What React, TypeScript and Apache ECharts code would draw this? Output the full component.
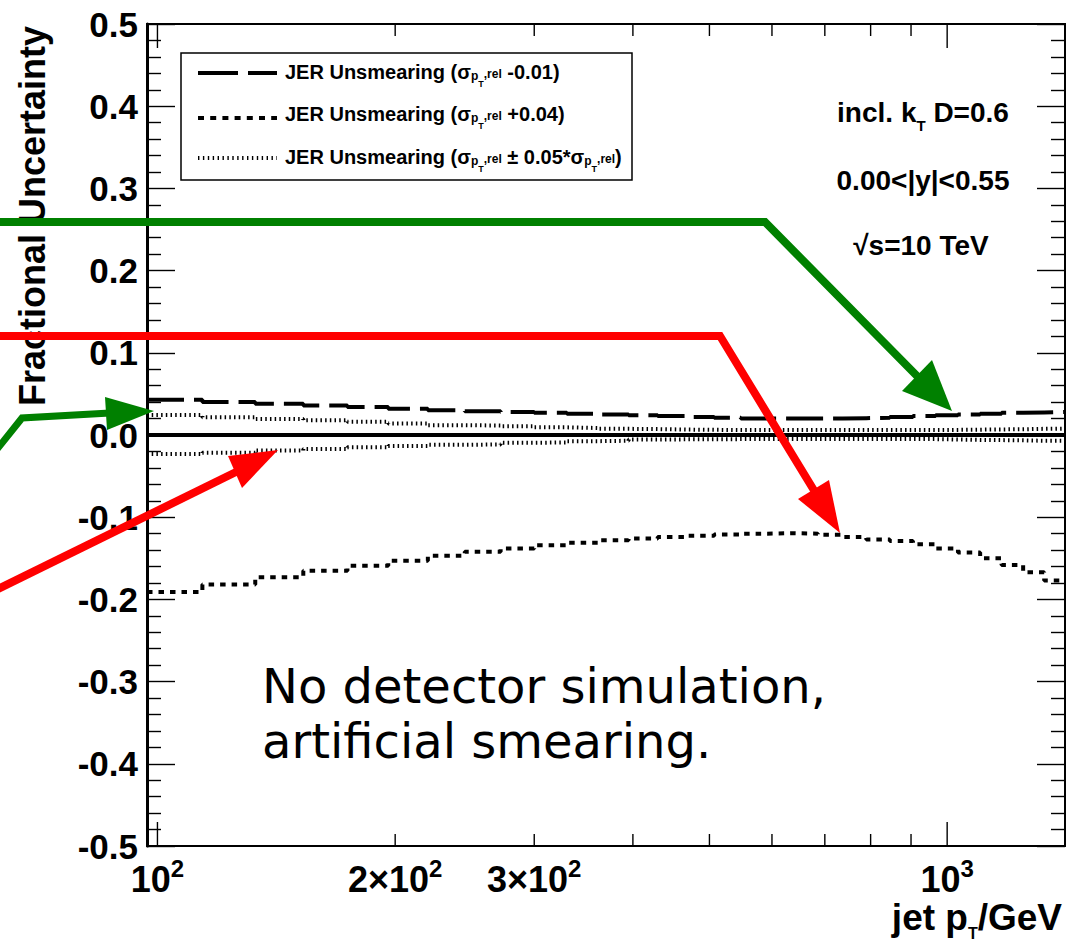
import React, { useEffect, useRef } from 'react';
import * as echarts from 'echarts';

// ---------- DATA ----------
const binEdges = [97, 114, 133, 153, 174, 196, 220, 245, 272, 300, 330, 362, 395, 430, 468, 507, 548, 592, 638, 686, 737, 790, 846, 905, 967, 1032, 1101, 1172, 1248, 1327, 1410];

// JER Unsmearing (sigma -0.01)
const jerMinus001 = [0.043, 0.040, 0.038, 0.036, 0.034, 0.032, 0.030, 0.029, 0.028, 0.027, 0.026, 0.025, 0.024, 0.023, 0.022, 0.021, 0.020, 0.020, 0.020, 0.020, 0.0205, 0.021, 0.022, 0.023, 0.024, 0.025, 0.026, 0.027, 0.0275, 0.028];
// JER Unsmearing (sigma +0.04)
const jerPlus004 = [-0.191, -0.182, -0.173, -0.165, -0.159, -0.153, -0.147, -0.142, -0.138, -0.134, -0.131, -0.128, -0.126, -0.124, -0.1225, -0.121, -0.120, -0.1195, -0.120, -0.1215, -0.124, -0.127, -0.129, -0.133, -0.138, -0.143, -0.150, -0.158, -0.167, -0.177];
// JER Unsmearing (sigma +/- 0.05*sigma)
const jerScaleUp = [0.0243, 0.0215, 0.0195, 0.018, 0.016, 0.014, 0.012, 0.0115, 0.0105, 0.0093, 0.0085, 0.0075, 0.0072, 0.0066, 0.0063, 0.006, 0.006, 0.006, 0.006, 0.006, 0.006, 0.006, 0.006, 0.006, 0.0062, 0.0065, 0.0068, 0.007, 0.0075, 0.0078];
const jerScaleDown = [-0.023, -0.0215, -0.019, -0.017, -0.015, -0.0134, -0.012, -0.0115, -0.0095, -0.009, -0.0075, -0.007, -0.0055, -0.0053, -0.0052, -0.005, -0.005, -0.005, -0.005, -0.005, -0.005, -0.005, -0.005, -0.005, -0.0055, -0.006, -0.0062, -0.0065, -0.007, -0.007];

const zeroLine = [0, 0];
const xRange = [97, 1410];
const yRange = [-0.5, 0.5];
const yInterval = 0.1;

const xTickValues = [100, 200, 300, 400, 500, 600, 700, 800, 900, 1000];
const xMajorTicks = [100, 1000];
const xLabelValues = [100, 200, 300, 1000];
const xLabelBases = ['10', '2×10', '3×10', '10'];
const xLabelExps = ['2', '2', '2', '3'];

const sub = '{sub|p}{subsub|T}{sub2|,rel}';
const legendTexts = [
  `JER Unsmearing (σ${sub} -0.01)`,
  `JER Unsmearing (σ${sub} +0.04)`,
  `JER Unsmearing (σ${sub} ± 0.05*σ${sub})`,
];
const infoTexts = ['incl. k{sub|T} D=0.6', '0.00<|y|<0.55', '√s=10 TeV'];
const noteLines = ['No detector simulation,', 'artificial smearing.'];
const xTitleParts = ['jet p', 'T', '/GeV'];
const yTitle = 'Fractional Uncertainty';

// ---------- helpers ----------
const FONT = '"Liberation Sans", Arial, Helvetica, sans-serif';

let measureCtx: CanvasRenderingContext2D | null = null;
function textWidth(text: string, size: number) {
  if (!measureCtx) measureCtx = document.createElement('canvas').getContext('2d');
  if (!measureCtx) return text.length * size * 0.55;
  measureCtx.font = `bold ${size}px ${FONT}`;
  return measureCtx.measureText(text).width;
}

function stepPoints(edges: number[], vals: number[]) {
  const pts = vals.map((v, i) => [edges[i], v]);
  pts.push([edges[edges.length - 1], vals[vals.length - 1]]);
  return pts;
}

const legendRich = {
  sub: { fontSize: 12, fontWeight: 'bold', fontFamily: FONT, fill: '#000', padding: [7, 0, 0, 0] },
  subsub: { fontSize: 9, fontWeight: 'bold', fontFamily: FONT, fill: '#000', padding: [23, 0, 0, 0] },
  sub2: { fontSize: 12, fontWeight: 'bold', fontFamily: FONT, fill: '#000', padding: [3, 0, 0, 0] },
};

export default function App() {
  const ref = useRef<HTMLDivElement>(null);

  useEffect(() => {
    if (!ref.current) return;
    const chart = echarts.init(ref.current, null, { renderer: 'svg' });

    const histLine = (name: string, vals: number[], width: number, dash: number[] | 'solid') => ({
      name,
      type: 'line',
      step: 'end',
      data: stepPoints(binEdges, vals),
      showSymbol: false,
      symbol: 'none',
      lineStyle: { color: '#000', width, type: dash, cap: 'butt' },
      z: 3,
      silent: true,
    });

    const yAxisBase = {
      type: 'value',
      min: yRange[0],
      max: yRange[1],
      interval: yInterval,
      axisLine: { show: true, onZero: false, lineStyle: { color: '#000', width: 3 } },
      axisTick: { show: true, inside: true, length: 28, lineStyle: { color: '#000', width: 1.4 } },
      minorTick: { show: true, splitNumber: 5, length: 14, lineStyle: { color: '#000', width: 1.4 } },
      splitLine: { show: false },
      minorSplitLine: { show: false },
    };

    const graphics: any[] = [];
    // legend
    graphics.push({ type: 'rect', z: 100, shape: { x: 181, y: 53, width: 451, height: 127 }, style: { fill: '#fff', stroke: '#000', lineWidth: 1.5 } });
    const legRows = [73, 118, 158];
    const legTextRows = [72, 114, 157];
    const legDash = [[40, 10], [6, 6.2], [1.4, 3.5]];
    legRows.forEach((y, i) => {
      graphics.push({ type: 'line', z: 101, shape: { x1: 198, y1: y, x2: 277, y2: y }, style: { stroke: '#000', lineWidth: 4, lineDash: legDash[i] } });
      graphics.push({
        type: 'text', z: 101, x: 285, y: legTextRows[i],
        style: { text: legendTexts[i], fontSize: 20, fontWeight: 'bold', fontFamily: FONT, fill: '#000', align: 'left', verticalAlign: 'middle', rich: legendRich },
      });
    });
    // info texts
    const infoY = [112, 180, 245];
    const infoX = [923, 923, 921];
    infoTexts.forEach((t, i) => {
      graphics.push({
        type: 'text', z: 101, x: infoX[i], y: infoY[i],
        style: {
          text: t, fontSize: 28, fontWeight: 'bold', fontFamily: FONT, fill: '#000', align: 'center', verticalAlign: 'middle',
          rich: { sub: { fontSize: 15, fontWeight: 'bold', fontFamily: FONT, fill: '#000', padding: [26, 0, 0, 0] } },
        },
      });
    });
    // note text
    noteLines.forEach((t, i) => {
      graphics.push({
        type: 'text', z: 101, x: 262, y: 686 + i * 55,
        style: { text: t, fontSize: 48, fontFamily: '"DejaVu Sans", sans-serif', fill: '#000', align: 'left', verticalAlign: 'middle' },
      });
    });
    // y axis title
    graphics.push({
      type: 'text', z: 101, x: 32, y: 216, rotation: Math.PI / 2,
      style: { text: yTitle, fontSize: 36, fontWeight: 'bold', fontFamily: FONT, fill: '#000', align: 'center', verticalAlign: 'middle' },
    });
    // x axis title, right aligned, with subscript T as its own text
    const tMain = 37, tSub = 16, tRight = 1062, tY = 917;
    const wGeV = textWidth(xTitleParts[2], tMain);
    const wT = textWidth(xTitleParts[1], tSub);
    graphics.push({ type: 'text', z: 101, x: tRight, y: tY, style: { text: xTitleParts[2], fontSize: tMain, fontWeight: 'bold', fontFamily: FONT, fill: '#000', align: 'right', verticalAlign: 'middle' } });
    graphics.push({ type: 'text', z: 101, x: tRight - wGeV, y: tY + 16, style: { text: xTitleParts[1], fontSize: tSub, fontWeight: 'bold', fontFamily: FONT, fill: '#000', align: 'right', verticalAlign: 'middle' } });
    graphics.push({ type: 'text', z: 101, x: tRight - wGeV - wT, y: tY, style: { text: xTitleParts[0], fontSize: tMain, fontWeight: 'bold', fontFamily: FONT, fill: '#000', align: 'right', verticalAlign: 'middle' } });

    // arrows
    const green = '#008000';
    const red = '#ff0000';
    graphics.push({ type: 'polyline', z: 110, shape: { points: [[-10, 222], [765, 222], [920, 379]] }, style: { stroke: green, lineWidth: 8, fill: 'none', lineJoin: 'miter' } });
    graphics.push({ type: 'polygon', z: 110, shape: { points: [[952, 411], [932, 360], [902, 391]] }, style: { fill: green } });
    graphics.push({ type: 'polyline', z: 110, shape: { points: [[-10, 336], [720, 336], [815, 492]] }, style: { stroke: red, lineWidth: 8, fill: 'none', lineJoin: 'miter' } });
    graphics.push({ type: 'polygon', z: 110, shape: { points: [[840, 533], [829, 480], [798, 499]] }, style: { fill: red } });
    graphics.push({ type: 'polyline', z: 110, shape: { points: [[-10, 458], [22, 418], [110, 413]] }, style: { stroke: green, lineWidth: 7, fill: 'none', lineJoin: 'miter' } });
    graphics.push({ type: 'polygon', z: 110, shape: { points: [[154, 411], [105, 397], [107, 430]] }, style: { fill: green } });
    graphics.push({ type: 'polyline', z: 110, shape: { points: [[-10, 593], [238, 471]] }, style: { stroke: red, lineWidth: 8, fill: 'none' } });
    graphics.push({ type: 'polygon', z: 110, shape: { points: [[278, 450], [228, 456], [242, 488]] }, style: { fill: red } });

    const labMain = 36, labSup = 24;

    const option: any = {
      animation: false,
      backgroundColor: '#fff',
      textStyle: { fontFamily: FONT },
      grid: { left: 147, right: 4, top: 24, bottom: 94, show: true, borderColor: '#000', borderWidth: 2, backgroundColor: 'transparent' },
      xAxis: [{
        type: 'log', logBase: 10, min: xRange[0], max: xRange[1],
        axisLine: { show: true, onZero: false, lineStyle: { color: '#000', width: 2 } },
        axisTick: { show: false }, axisLabel: { show: false },
        splitLine: { show: false }, minorTick: { show: false }, minorSplitLine: { show: false },
      }],
      yAxis: [
        {
          ...yAxisBase, position: 'left',
          axisLabel: { show: true, fontSize: 35, fontWeight: 'bold', fontFamily: FONT, color: '#000', margin: 9, formatter: (v: number) => v.toFixed(1) },
        },
        {
          ...yAxisBase, position: 'right',
          axisLine: { show: true, onZero: false, lineStyle: { color: '#000', width: 2 } },
          axisLabel: { show: false },
        },
      ],
      series: [
        {
          name: 'zero', type: 'line', data: [[xRange[0], zeroLine[0]], [xRange[1], zeroLine[1]]], symbol: 'none',
          lineStyle: { color: '#000', width: 4 }, z: 2, silent: true,
        },
        histLine('JER Unsmearing (sigma -0.01)', jerMinus001, 4, [37, 10]),
        histLine('JER Unsmearing (sigma +0.04)', jerPlus004, 4, [5.5, 6]),
        histLine('JER Unsmearing (sigma +0.05 sigma)', jerScaleUp, 4, [1.5, 3.2]),
        histLine('JER Unsmearing (sigma -0.05 sigma)', jerScaleDown, 4, [1.5, 3.2]),
        {
          name: 'xticks', type: 'custom', coordinateSystem: 'cartesian2d', silent: true, z: 5,
          data: xTickValues.map((v) => [v, 0]),
          renderItem: (params: any, api: any) => {
            const v = api.value(0);
            const len = xMajorTicks.includes(v) ? 24 : 12;
            const b = api.coord([v, yRange[0]]);
            const t = api.coord([v, yRange[1]]);
            return {
              type: 'group',
              children: [
                { type: 'line', shape: { x1: b[0], y1: b[1], x2: b[0], y2: b[1] - len }, style: { stroke: '#000', lineWidth: 1.4 } },
                { type: 'line', shape: { x1: t[0], y1: t[1], x2: t[0], y2: t[1] + len }, style: { stroke: '#000', lineWidth: 1.4 } },
              ],
            };
          },
        },
        {
          name: 'xlabels', type: 'custom', coordinateSystem: 'cartesian2d', silent: true, z: 5, clip: false,
          data: xLabelValues.map((v) => [v, 0]),
          renderItem: (params: any, api: any) => {
            const v = api.value(0);
            const p = api.coord([v, yRange[0]]);
            const base = xLabelBases[params.dataIndex];
            const exp = xLabelExps[params.dataIndex];
            const wb = textWidth(base, labMain);
            const we = textWidth(exp, labSup);
            const left = p[0] - (wb + we) / 2;
            const cy = p[1] + 33;
            return {
              type: 'group',
              children: [
                { type: 'text', x: left, y: cy, style: { text: base, fontSize: labMain, fontWeight: 'bold', fontFamily: FONT, fill: '#000', align: 'left', verticalAlign: 'middle' } },
                { type: 'text', x: left + wb, y: cy - 11, style: { text: exp, fontSize: labSup, fontWeight: 'bold', fontFamily: FONT, fill: '#000', align: 'left', verticalAlign: 'middle' } },
              ],
            };
          },
        },
      ],
      graphic: graphics,
    };

    chart.setOption(option);
    return () => chart.dispose();
  }, []);

  return <div ref={ref} style={{ position: 'absolute', left: 0, top: 0, width: 1069, height: 940, background: '#fff' }} />;
}
